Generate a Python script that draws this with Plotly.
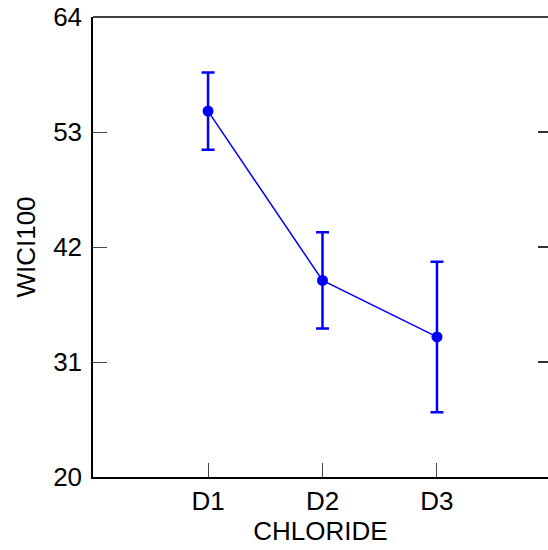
import plotly.graph_objects as go

categories = ["D1", "D2", "D3"]
means = [55.0, 38.8, 33.4]
errors = [3.7, 4.6, 7.2]
y_ticks = [20, 31, 42, 53, 64]

x_pos = [1, 2, 3]
blue = "#0000FF"
font = dict(family="Liberation Sans, Arial, sans-serif", size=26, color="black")

fig = go.Figure()
fig.add_trace(go.Scatter(
    x=x_pos, y=means, mode="lines+markers",
    line=dict(color=blue, width=1.5),
    marker=dict(color=blue, size=11),
    error_y=dict(type="data", array=errors, visible=True, color=blue, thickness=2.5, width=6.5),
    showlegend=False,
))
# invisible trace for the right-side mirror ticks
fig.add_trace(go.Scatter(x=x_pos, y=means, yaxis="y2", mode="markers",
                         marker=dict(opacity=0), showlegend=False, hoverinfo="skip"))

fig.update_layout(
    width=548, height=550,
    margin=dict(l=93, r=0, t=17, b=73),
    paper_bgcolor="white", plot_bgcolor="white",
    font=font,
    xaxis=dict(range=[-0.005, 3.97], tickvals=x_pos, ticktext=categories,
               showline=True, linecolor="black", linewidth=1.5, mirror=False,
               ticks="inside", ticklen=14, tickwidth=1, tickcolor="#444",
               showgrid=False, zeroline=False,
               title=dict(text="CHLORIDE", font=font, standoff=2)),
    yaxis=dict(range=[20, 64], tickvals=y_ticks,
               showline=True, linecolor="black", linewidth=1.5, mirror=False,
               ticks="inside", ticklen=14, tickwidth=1, tickcolor="#444",
               showgrid=False, zeroline=False, ticklabelstandoff=4,
               title=dict(text="WICI100", font=font, standoff=10)),
    yaxis2=dict(range=[20, 64], tickvals=y_ticks, overlaying="y", side="right",
                showticklabels=False, showline=False, ticks="inside", ticklen=10,
                tickwidth=1.5, tickcolor="#333", showgrid=False, zeroline=False),
    shapes=[dict(type="line", xref="paper", yref="paper", x0=0, x1=1, y0=1, y1=1,
                 line=dict(color="black", width=1.5))],
)

fig.write_html("out.html")
